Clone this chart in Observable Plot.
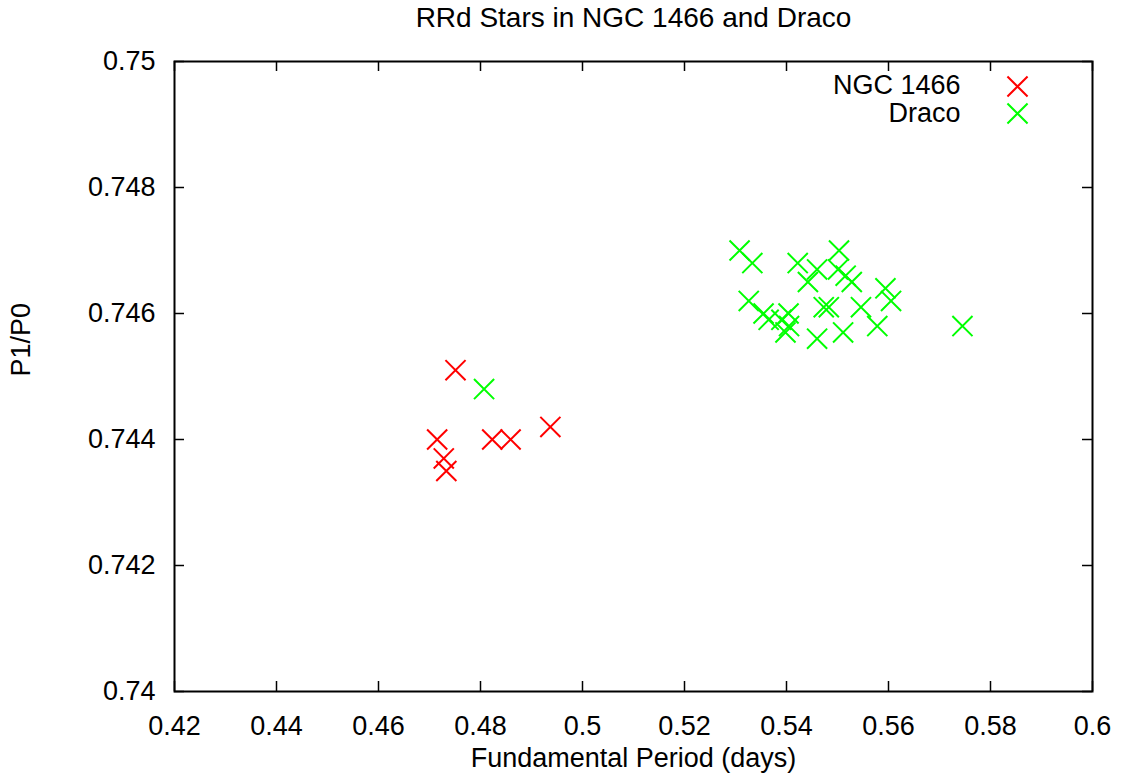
<!DOCTYPE html>
<html>
<head>
<meta charset="utf-8">
<script src="https://cdn.jsdelivr.net/npm/d3@7"></script>
<script src="https://cdn.jsdelivr.net/npm/@observablehq/plot@0.6"></script>
<style>
  html, body { margin: 0; padding: 0; background: #fff; }
</style>
</head>
<body>
<div id="chart"></div>
<script>
// ---- Data ----
const titleText = "RRd Stars in NGC 1466 and Draco";
const xLabel = "Fundamental Period (days)";
const yLabel = "P1/P0";
const seriesNames = ["NGC 1466", "Draco"];
const seriesColors = ["#ff0000", "#00ff00"];

const ngcPeriod = [0.4751, 0.4715, 0.4728, 0.4733, 0.4823, 0.4859, 0.4937];
const ngcRatio  = [0.7451, 0.7440, 0.7437, 0.7435, 0.7440, 0.7440, 0.7442];

const dracoPeriod = [0.4807, 0.5308, 0.5333, 0.5422, 0.5503, 0.5460, 0.5501, 0.5442, 0.5516, 0.5528,
                     0.5594, 0.5605, 0.5326, 0.5546, 0.5473, 0.5483, 0.5355, 0.5365, 0.5404, 0.5390,
                     0.5398, 0.5405, 0.5578, 0.5745, 0.5460, 0.5511];
const dracoRatio  = [0.7448, 0.7470, 0.7468, 0.7468, 0.7470, 0.7467, 0.7467, 0.7465, 0.7466, 0.7465,
                     0.7464, 0.7462, 0.7462, 0.7461, 0.7461, 0.7461, 0.7460, 0.7459, 0.7460, 0.7459,
                     0.7457, 0.7458, 0.7458, 0.7458, 0.7456, 0.7457];

const xTicks = [0.42, 0.44, 0.46, 0.48, 0.50, 0.52, 0.54, 0.56, 0.58, 0.60];
const yTicks = [0.740, 0.742, 0.744, 0.746, 0.748, 0.750];

// ---- Build table ----
const rows = [
  ...ngcPeriod.map((p, i) => ({period: p, ratio: ngcRatio[i], series: seriesNames[0]})),
  ...dracoPeriod.map((p, i) => ({period: p, ratio: dracoRatio[i], series: seriesNames[1]}))
];

const fmt = d => String(+d.toFixed(4));
const FS = 27;
const W = 1123, H = 780;
const mL = 174, mR = 31, mT = 61, mB = 89;
const innerW = W - mL - mR, innerH = H - mT - mB;
const tickLen = 10;

const chart = Plot.plot({
  width: W,
  height: H,
  marginLeft: mL,
  marginRight: mR,
  marginTop: mT,
  marginBottom: mB,
  style: {fontFamily: "'Liberation Sans', Arial, Helvetica, sans-serif", fontSize: FS + "px", color: "#000", background: "#fff"},
  x: {domain: [0.42, 0.60]},
  y: {domain: [0.740, 0.750]},
  color: {domain: seriesNames, range: seriesColors},
  marks: [
    Plot.axisX(xTicks, {anchor: "bottom", tickSize: 0, tickPadding: 24, tickFormat: fmt, label: null, fontSize: FS}),
    Plot.axisY(yTicks, {anchor: "left", tickSize: 0, tickPadding: 19, tickFormat: fmt, label: null, fontSize: FS}),
    // inward ticks (gnuplot style, mirrored)
    Plot.ruleX(xTicks, {x: d => d, insetTop: innerH - tickLen, stroke: "#000", strokeWidth: 1.5}),
    Plot.ruleX(xTicks, {x: d => d, insetBottom: innerH - tickLen, stroke: "#000", strokeWidth: 1.5}),
    Plot.ruleY(yTicks, {y: d => d, insetRight: innerW - tickLen, stroke: "#000", strokeWidth: 1.5}),
    Plot.ruleY(yTicks, {y: d => d, insetLeft: innerW - tickLen, stroke: "#000", strokeWidth: 1.5}),
    Plot.frame({stroke: "#000", strokeWidth: 2}),
    Plot.dot(rows, {x: "period", y: "ratio", stroke: "series", symbol: "times", r: 9.2, strokeWidth: 2}),
    // titles
    Plot.text([titleText], {text: d => d, frameAnchor: "top", dy: -43, lineAnchor: "middle", fontSize: 28}),
    Plot.text([xLabel], {text: d => d, frameAnchor: "bottom", dy: 67, lineAnchor: "middle", fontSize: FS}),
    Plot.text([yLabel], {text: d => d, frameAnchor: "left", dx: -153, rotate: -90, lineAnchor: "middle", fontSize: FS}),
    // legend
    Plot.text([seriesNames[0]], {text: d => d, frameAnchor: "top-right", textAnchor: "end", dx: -132, dy: 24, lineAnchor: "middle", fontSize: FS}),
    Plot.text([seriesNames[1]], {text: d => d, frameAnchor: "top-right", textAnchor: "end", dx: -132, dy: 52, lineAnchor: "middle", fontSize: FS}),
    Plot.dot([seriesNames[0]], {frameAnchor: "top-right", dx: -75, dy: 25, stroke: seriesColors[0], symbol: "times", r: 9.2, strokeWidth: 2}),
    Plot.dot([seriesNames[1]], {frameAnchor: "top-right", dx: -75, dy: 52, stroke: seriesColors[1], symbol: "times", r: 9.2, strokeWidth: 2})
  ]
});

document.getElementById("chart").appendChild(chart);
</script>
</body>
</html>
